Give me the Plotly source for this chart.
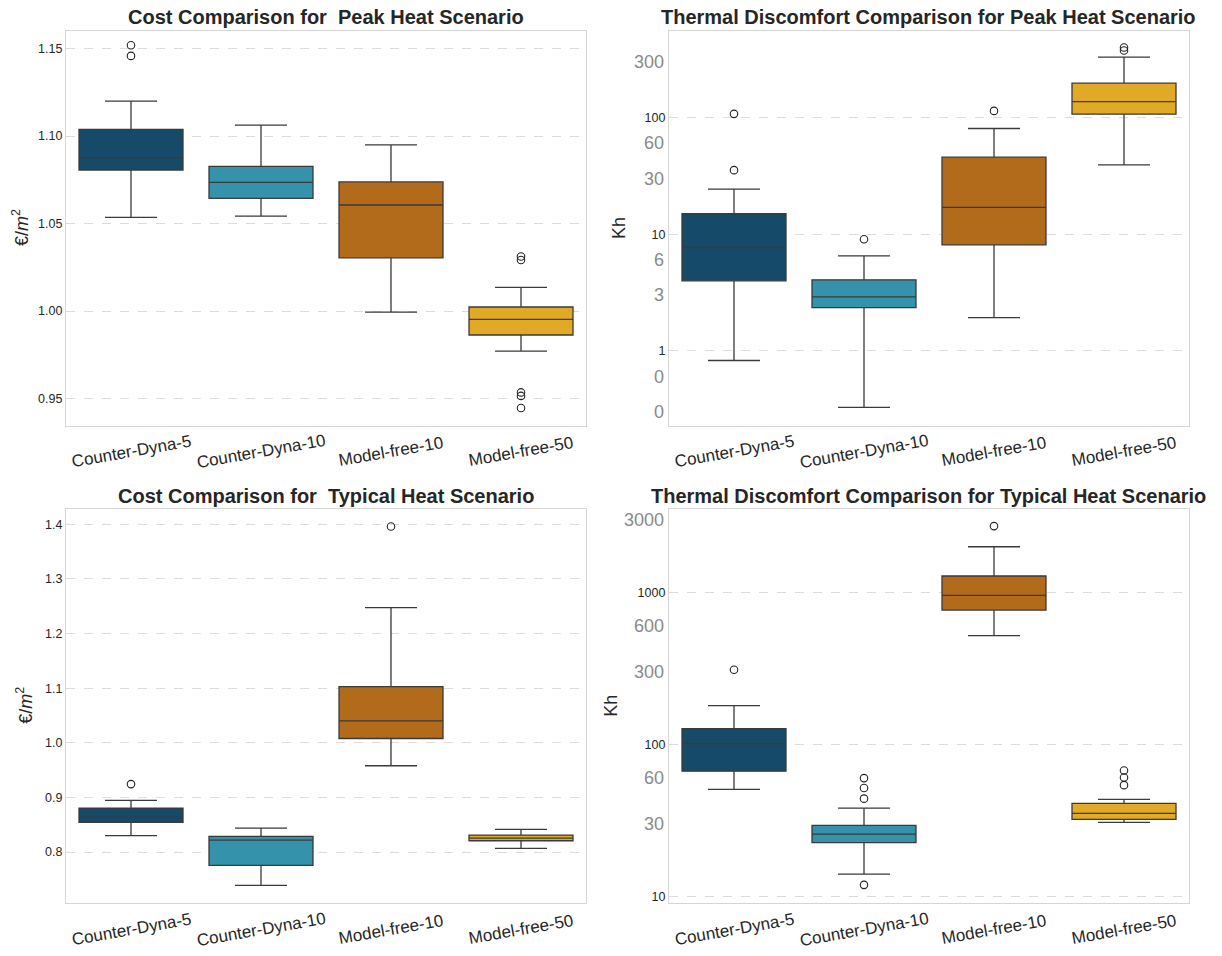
import plotly.graph_objects as go
import math

categories = ["Counter-Dyna-5", "Counter-Dyna-10", "Model-free-10", "Model-free-50"]
colors = ["#154a68", "#3592ab", "#b26a1b", "#e0a926"]

# Peak heat - cost (€/m2)
peak_cost_low = [1.0535, 1.0542, 0.9994, 0.9771]
peak_cost_q1 = [1.0806, 1.0644, 1.0304, 0.9863]
peak_cost_med = [1.0875, 1.0735, 1.0606, 0.9952]
peak_cost_q3 = [1.1038, 1.0827, 1.0738, 1.0023]
peak_cost_high = [1.1200, 1.1062, 1.0950, 1.0135]
peak_cost_out = [[1.1519, 1.1458], [], [], [1.0312, 1.0292, 0.9535, 0.9515, 0.9446]]

# Peak heat - thermal discomfort (Kh)
peak_td_low = [0.826, 0.327, 1.93, 39.3]
peak_td_q1 = [3.98, 2.35, 8.11, 106.8]
peak_td_med = [7.69, 2.90, 17.0, 137.0]
peak_td_q3 = [15.0, 4.06, 45.7, 197.0]
peak_td_high = [24.3, 6.52, 80.5, 329.0]
peak_td_out = [[107.5, 35.4], [9.06], [114.0], [398.0, 375.0]]

# Typical heat - cost (€/m2)
typ_cost_low = [0.830, 0.739, 0.958, 0.8067]
typ_cost_q1 = [0.8543, 0.7756, 1.0079, 0.8207]
typ_cost_med = [0.864, 0.822, 1.040, 0.8256]
typ_cost_q3 = [0.8805, 0.8287, 1.103, 0.8311]
typ_cost_high = [0.8945, 0.8439, 1.2476, 0.8415]
typ_cost_out = [[0.9244], [], [1.396], []]

# Typical heat - thermal discomfort (Kh)
typ_td_low = [50.6, 14.0, 521.0, 30.7]
typ_td_q1 = [66.8, 22.6, 769.0, 32.1]
typ_td_med = [101.0, 25.7, 960.0, 35.2]
typ_td_q3 = [127.4, 29.3, 1289.0, 40.9]
typ_td_high = [180.5, 38.1, 2009.0, 43.5]
typ_td_out = [[311.0], [60.1, 51.7, 44.0, 11.9], [2748.0], [67.4, 60.7, 54.0]]

titles = ["Cost Comparison for \u00a0Peak Heat Scenario",
          "Thermal Discomfort Comparison for Peak Heat Scenario",
          "Cost Comparison for \u00a0Typical Heat Scenario",
          "Thermal Discomfort Comparison for Typical Heat Scenario"]
ytitles = ["€/<i>m</i><sup>2</sup>", "Kh", "€/<i>m</i><sup>2</sup>", "Kh"]

# ticks
peak_cost_ticks = [0.95, 1.00, 1.05, 1.10, 1.15]
typ_cost_ticks = [0.8, 0.9, 1.0, 1.1, 1.2, 1.3, 1.4]
peak_td_major = [1, 10, 100]
peak_td_minor = [0.3, 0.6, 3, 6, 30, 60, 300]
typ_td_major = [10, 100, 1000]
typ_td_minor = [30, 60, 300, 600, 3000]

W, H = 1222, 956
xdom = [[66 / W, 586 / W], [669 / W, 1189 / W]]
ydom = [[1 - 425.5 / H, 1 - 30.5 / H], [1 - 903 / H, 1 - 508.5 / H]]

panels = [
    (peak_cost_low, peak_cost_q1, peak_cost_med, peak_cost_q3, peak_cost_high, peak_cost_out),
    (peak_td_low, peak_td_q1, peak_td_med, peak_td_q3, peak_td_high, peak_td_out),
    (typ_cost_low, typ_cost_q1, typ_cost_med, typ_cost_q3, typ_cost_high, typ_cost_out),
    (typ_td_low, typ_td_q1, typ_td_med, typ_td_q3, typ_td_high, typ_td_out),
]

fig = go.Figure()
line_col = "#3a3a3a"
for p, (lo, q1, med, q3, hi, outs) in enumerate(panels):
    xa = "x" if p == 0 else f"x{p+1}"
    ya = "y" if p == 0 else f"y{p+1}"
    for i, c in enumerate(categories):
        fig.add_trace(go.Box(
            x=[c], q1=[q1[i]], median=[med[i]], q3=[q3[i]],
            lowerfence=[lo[i]], upperfence=[hi[i]],
            fillcolor=colors[i], line=dict(color=line_col, width=1.3),
            width=0.8, whiskerwidth=0.5, boxpoints=False,
            xaxis=xa, yaxis=ya, showlegend=False, hoverinfo="skip",
        ))
        if outs[i]:
            fig.add_trace(go.Scatter(
                x=[c] * len(outs[i]), y=outs[i], mode="markers",
                marker=dict(symbol="circle-open", size=7.5, color="#222222",
                            line=dict(width=1.1, color="#222222")),
                xaxis=xa, yaxis=ya, showlegend=False, hoverinfo="skip",
            ))

font_main = "Liberation Sans, Arial, sans-serif"
frame = "#d6d6d6"
grid = "#dcdcdc"
layout = dict(
    width=W, height=H, margin=dict(l=0, r=0, t=0, b=0, autoexpand=False),
    paper_bgcolor="white", plot_bgcolor="white",
    font=dict(family=font_main, color="#262626"),
    showlegend=False,
)
for p in range(4):
    r, cidx = divmod(p, 2)
    sfx = "" if p == 0 else str(p + 1)
    xa = dict(domain=xdom[cidx], anchor="y" + sfx, type="category",
              categoryorder="array", categoryarray=categories,
              range=[-0.5, 3.5], showgrid=False, zeroline=False,
              showline=True, linecolor=frame, linewidth=1.2, mirror=True,
              ticks="", showticklabels=False, automargin=False)
    ya = dict(domain=ydom[r], anchor="x" + sfx, showgrid=True, gridcolor=grid,
              griddash="dash", gridwidth=1, zeroline=False, showline=True,
              linecolor=frame, linewidth=1.2, mirror=True, ticks="",
              tickfont=dict(size=12.5, color="#262626"), automargin=False)
    if p == 0:
        ya.update(range=[0.9346, 1.1603], tickvals=peak_cost_ticks,
                  ticktext=[f"{v:.2f}" for v in peak_cost_ticks])
    elif p == 2:
        ya.update(range=[0.7067, 1.429], tickvals=typ_cost_ticks,
                  ticktext=[f"{v:.1f}" for v in typ_cost_ticks])
    else:
        if p == 1:
            rng = [-0.64, 2.746]
            major = peak_td_major
        else:
            rng = [0.956, 3.555]
            major = typ_td_major
        ya.update(type="log", range=rng, tickvals=major,
                  ticktext=[str(v) for v in major])
    layout["xaxis" + sfx] = xa
    layout["yaxis" + sfx] = ya

fig.update_layout(**layout)

annotations = []
# titles
title_y = [17, 496]
for p in range(4):
    r, cidx = divmod(p, 2)
    annotations.append(dict(
        text="<b>" + titles[p] + "</b>", x=sum(xdom[cidx]) / 2, y=1 - title_y[r] / H,
        xref="paper", yref="paper", showarrow=False, xanchor="center", yanchor="middle",
        font=dict(size=20, color="#262626", family=font_main)))
# y-axis titles
ytitle_x = [21, 619, 25, 611]
for p in range(4):
    r, cidx = divmod(p, 2)
    annotations.append(dict(
        text=ytitles[p], x=ytitle_x[p] / W, y=sum(ydom[r]) / 2, xref="paper", yref="paper",
        showarrow=False, textangle=-90, xanchor="center", yanchor="middle",
        font=dict(size=18, color="#262626", family=font_main)))
# x tick labels (centered, rotated)
for p in range(4):
    sfx = "" if p == 0 else str(p + 1)
    for c in categories:
        annotations.append(dict(
            text=c, x=c, y=0, xref="x" + sfx, yref="y" + sfx + " domain",
            yshift=-26, showarrow=False, textangle=-10, xanchor="center", yanchor="middle",
            font=dict(size=17, color="#262626", family=font_main)))
# minor log tick labels
for p, minor in [(1, peak_td_minor), (3, typ_td_minor)]:
    sfx = str(p + 1)
    for v in minor:
        annotations.append(dict(
            text=str(int(v)), x=0, xshift=-3, y=math.log10(v), xref="x" + sfx + " domain",
            yref="y" + sfx, showarrow=False, xanchor="right", yanchor="middle",
            font=dict(size=18, color="#8a8a8a", family=font_main)))
fig.update_layout(annotations=annotations)

fig.write_html("out.html", config={"displayModeBar": False},
               post_script="document.body.style.margin='0';")
